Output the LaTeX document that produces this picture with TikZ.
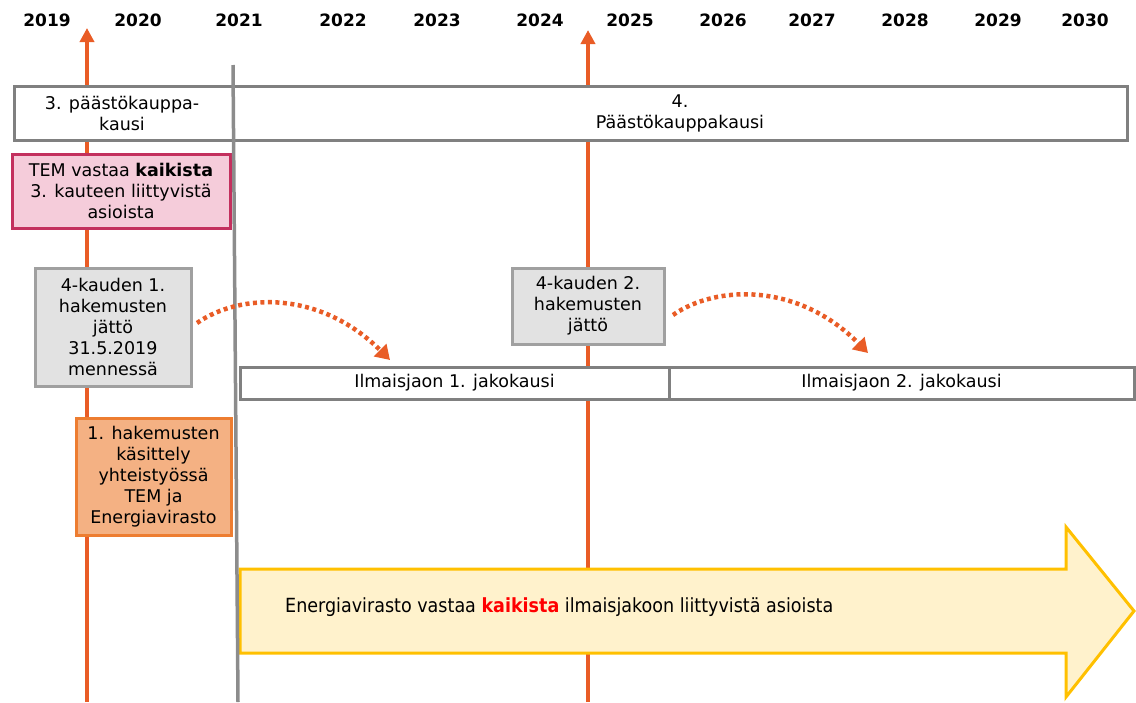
\documentclass[tikz,border=0pt]{standalone}
\usepackage{fontspec}
\setmainfont{DejaVu Sans}
\newfontfamily\condfont{DejaVu Sans Condensed}
\usetikzlibrary{arrows.meta}
\definecolor{orl}{HTML}{E95C26}
\definecolor{gline}{HTML}{8C8C8C}
\definecolor{pinkf}{HTML}{F5CCDA}
\definecolor{pinkd}{HTML}{C3305E}
\definecolor{grayf}{HTML}{E2E2E2}
\definecolor{grayd}{HTML}{A0A0A0}
\definecolor{topd}{HTML}{808080}
\definecolor{orf}{HTML}{F4B183}
\definecolor{ord}{HTML}{ED7D31}
\definecolor{yelf}{HTML}{FFF2CC}
\definecolor{yeld}{HTML}{FFC000}
\tikzset{
  yr/.style={font=\fontsize{17}{19}\selectfont\bfseries, text=black},
  txt/.style={font=\fontsize{17.5}{21}\selectfont, align=center, text=black},
  boxs/.style={txt, draw, line width=3pt, inner sep=0pt, outer sep=0pt},
  vline/.style={orl, line width=3.5pt},
  dotarr/.style={orl, line width=4.5pt, dash pattern=on 4pt off 3.5pt, -{Triangle[length=14pt,width=17pt]}},
}
\begin{document}
\begin{tikzpicture}[x=1pt,y=-1pt]
\useasboundingbox (0,0) rectangle (1136,702);
% year labels
\foreach \x/\y in {47/2019,138/2020,239/2021,343/2022,437/2023,540/2024,630/2025,723/2026,812/2027,905/2028,998/2029,1085/2030}
  \node[yr] (y\y) at (\x,20) {\y};
% orange vertical arrows
\coordinate (a1b) at (87,702);
\coordinate (a1t) at (87,28);
\coordinate (a2b) at (588,702);
\coordinate (a2t) at (588,30);
\draw[vline,-{Triangle[length=14pt,width=14pt]}] (a1b) -- (a1t);
\draw[vline,-{Triangle[length=14pt,width=14pt]}] (a2b) -- (a2t);
% top period box
\node[boxs, draw=topd, fill=white, minimum width=1113pt, minimum height=54pt] (top) at (570.5,113) {};
\node[txt] (p3) at (122,113) {3. päästökauppa-\\kausi};
\node[txt] (p4) at (680,113) {4.\\Päästökauppakausi};
% pink box
\node[boxs, draw=pinkd, fill=pinkf, minimum width=218pt, minimum height=74pt] (tem) at (121,191) {TEM vastaa \textbf{kaikista}\\3. kauteen liittyvistä\\asioista};
% gray boxes
\node[boxs, draw=grayd, fill=grayf, minimum width=156pt, minimum height=118pt] (h1) at (113,327) {4-kauden 1.\\hakemusten\\jättö\\31.5.2019\\mennessä};
\node[boxs, draw=grayd, fill=grayf, minimum width=152pt, minimum height=76pt] (h2) at (588,306) {4-kauden 2.\\hakemusten\\jättö};
% orange box
\node[boxs, draw=ord, fill=orf, minimum width=155pt, minimum height=117pt] (kas) at (153.5,476.5) {1. hakemusten\\käsittely\\yhteistyössä\\TEM ja\\Energiavirasto};
% Ilmaisjako bars
\node[boxs, draw=topd, fill=white, minimum width=429pt, minimum height=32pt] (j1) at (454.5,383) {Ilmaisjaon 1. jakokausi};
\node[boxs, draw=topd, fill=white, minimum width=465pt, minimum height=32pt] (j2) at (901.5,383) {Ilmaisjaon 2. jakokausi};
% big arrow
\draw[yeld, fill=yelf, line width=3pt, line join=miter]
  (240,569) -- (1066,569) -- (1066,527) -- (1134,611) -- (1066,697) -- (1066,653) -- (240,653) -- cycle;
\node[font=\condfont\fontsize{19.5}{22}\selectfont, anchor=west, text=black, inner sep=0pt] (ev) at (285,607) {Energiavirasto vastaa \textcolor{red}{\bfseries kaikista} ilmaisjakoon liittyvistä asioista};
% gray vertical line
\coordinate (gt) at (233,65);
\coordinate (gb) at (238,702);
\draw[gline, line width=3.5pt] (gt) -- (gb);
% dotted curved arrows
\coordinate (d1s) at (197,323);
\coordinate (d1e) at (390,360);
\coordinate (d2s) at (673,315);
\coordinate (d2e) at (868,353);
\draw[dotarr] (d1s) .. controls (240,293) and (320,290) .. (d1e);
\draw[dotarr] (d2s) .. controls (716,285) and (798,282) .. (d2e);
\end{tikzpicture}
\end{document}
